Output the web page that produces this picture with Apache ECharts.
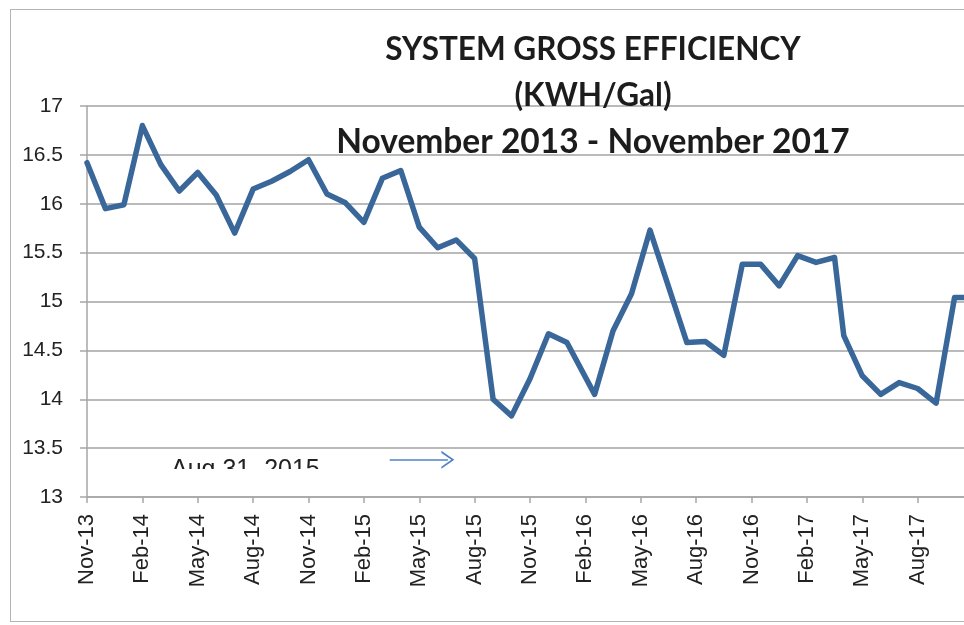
<!DOCTYPE html>
<html>
<head>
<meta charset="utf-8">
<script src="https://cdn.jsdelivr.net/npm/echarts@6/dist/echarts.min.js"></script>
<style>
  html, body { margin: 0; padding: 0; background: #fff; overflow: hidden; }
  .frame {
    position: absolute; left: 10px; top: 9px; width: 1000px; height: 611px;
    border: 1px solid #b4b4b4; pointer-events: none;
  }
  #chart { position: absolute; left: 0; top: 0; width: 964px; height: 625px; }
</style>
</head>
<body>
<div class="frame"></div>
<div id="chart"></div>
<script>
// x axis: months since Nov-2013, labelled every 3 months
const tickLabels = ['Nov-13', 'Feb-14', 'May-14', 'Aug-14', 'Nov-14', 'Feb-15', 'May-15', 'Aug-15',
  'Nov-15', 'Feb-16', 'May-16', 'Aug-16', 'Nov-16', 'Feb-17', 'May-17', 'Aug-17', 'Nov-17']

// reading dates (month index), mid-month readings during 2016
const monthPos = [0, 1, 2, 3, 4, 5, 6, 7, 8, 9, 10, 11, 12, 13, 14, 15, 16, 17, 18, 19, 20,
  21, 22, 23, 24, 25, 26,
  27.5, 28.5, 29.5, 30.5, 32.5, 33.5, 34.5, 35.5, 36.5, 37.5, 38.5, 39.5, 40.5,
  41, 42, 43, 44, 45, 46, 47, 48]

// KWH/Gal
const efficiency = [16.42, 15.95, 15.99, 16.80, 16.40, 16.13, 16.32, 16.09, 15.70, 16.15, 16.23,
  16.33, 16.45, 16.10, 16.01, 15.81, 16.26, 16.34, 15.76, 15.55, 15.63,
  15.44, 14.00, 13.83, 14.21, 14.67, 14.58,
  14.05, 14.70, 15.08, 15.73, 14.58, 14.59, 14.45, 15.38, 15.38, 15.16, 15.47, 15.40, 15.45,
  14.65, 14.24, 14.05, 14.17, 14.11, 13.96, 15.04, 15.04]

// arrow note under the plot (Aug 31, 2015)
const arrowFrom = [16.4, 13.38]
const arrowTo = [19.55, 13.38]

let points = monthPos.map((m, i) => [m, efficiency[i]])

let chart = echarts.init(document.getElementById('chart'))
chart.setOption({
  backgroundColor: 'transparent',
  animation: false,
  title: {
    text: '{a|SYSTEM GROSS EFFICIENCY}\n{a|(KWH/Gal)}\n{c|November 2013 - November 2017}',
    left: 588,
    top: 22,
    textAlign: 'center',
    textStyle: {
      rich: {
        a: { fontFamily: 'Lato', fontWeight: 'bold', fontSize: 31.5, lineHeight: 46, color: '#1c1c1c' },
        c: { fontFamily: 'Lato', fontWeight: 'bold', fontSize: 33.5, lineHeight: 46, color: '#1c1c1c' }
      }
    }
  },
  grid: {
    left: 87,
    top: 106,
    bottom: 128,
    right: -9,
    containLabel: false,
    outerBoundsMode: 'none'
  },
  xAxis: {
    type: 'value',
    min: 0,
    max: 48,
    interval: 3,
    axisLine: { show: true, lineStyle: { color: '#a6a6a6', width: 1.5 } },
    axisTick: { show: true, length: 6, lineStyle: { color: '#a6a6a6', width: 1.5 } },
    splitLine: { show: false },
    axisLabel: {
      rotate: 90,
      margin: 17,
      fontFamily: 'Liberation Sans',
      fontSize: 22,
      color: '#222',
      showMaxLabel: true,
      hideOverlap: false,
      formatter: function (v) { return tickLabels[Math.round(v / 3)] || '' }
    }
  },
  yAxis: {
    type: 'value',
    min: 13,
    max: 17,
    interval: 0.5,
    axisLine: { show: true, lineStyle: { color: '#a6a6a6', width: 1.5 } },
    axisTick: { show: true, length: 7, lineStyle: { color: '#a6a6a6', width: 1.5 } },
    splitLine: { show: true, lineStyle: { color: '#a3a3a3', width: 1.5 } },
    axisLabel: {
      margin: 24,
      fontFamily: 'Liberation Sans',
      fontSize: 21,
      color: '#222'
    }
  },
  series: [{
    type: 'line',
    data: points,
    showSymbol: false,
    symbol: 'none',
    lineStyle: { color: '#3a6799', width: 5.5, join: 'round', cap: 'round' },
    markLine: {
      silent: true,
      symbol: ['none', 'path://M0,12L6,0L12,12L10.6,12L6,2.8L1.4,12Z'],
      symbolSize: [18, 13],
      label: { show: false },
      lineStyle: { color: '#4f83c4', width: 1.6, type: 'solid' },
      data: [[{ coord: arrowFrom }, { coord: arrowTo }]]
    }
  }],
  graphic: [{
    type: 'text',
    left: 171,
    top: 458,
    style: {
      text: 'Aug 31, 2015',
      font: '25px "Liberation Sans"',
      fill: '#222'
    }
  }, {
    type: 'rect',
    left: 150,
    top: 469,
    shape: { width: 200, height: 24 },
    style: { fill: '#fff' }
  }]
})
</script>
</body>
</html>
